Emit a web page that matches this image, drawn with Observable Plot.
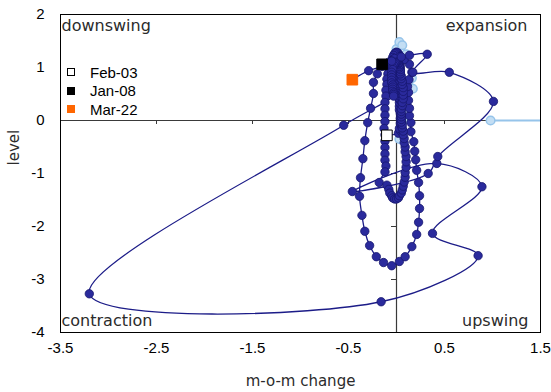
<!DOCTYPE html>
<html><head><meta charset="utf-8">
<script src="https://cdn.jsdelivr.net/npm/d3@7"></script>
<script src="https://cdn.jsdelivr.net/npm/@observablehq/plot@0.6"></script>
<style>
body{margin:0;background:#fff;}
#wrap{position:relative;width:551px;height:392px;}
#legend{position:absolute;left:67px;top:63px;font:15px "Liberation Sans",Arial,sans-serif;color:#000;}
.row{display:flex;align-items:center;height:18.5px;}
.sw{width:8px;height:8px;margin-right:15px;box-sizing:border-box;}
</style></head><body><div id="wrap"></div>
<script>
// ---- data ----
// dark series: m-o-m change (x) and level (y), Feb-03 .. Mar-22
const changeVals = [
 -0.10,0.02,0.04,0.03,0.05,0.04,0.05,0.04,0.05,0.04,0.04,0.03,0.04,0.03,0.04,0.03,0.04,0.03,0.02,0.03,
 0.02,0.03,0.02,0.03,0.02,0.03,0.02,0.03,0.03,0.04,0.03,0.04,0.03,0.04,0.03,0.04,0.03,0.04,0.03,0.04,
 0.03,0.03,0.03,0.02,0.03,0.02,0.02,0.01,0.01,0.00,-0.01,-0.02,-0.03,-0.04,-0.04,-0.05,-0.08,-0.15,
 -0.20,-0.24,-0.24,-0.27,-0.30,-0.33,-0.35,-0.375,-0.385,-0.36,-0.33,-0.28,-0.21,-0.135,-0.05,0.03,0.09,0.16,0.21,0.23,
 0.24,0.24,0.23,0.21,0.20,0.19,0.18,0.15,0.15,0.135,0.135,0.125,0.125,0.115,0.13,0.16,0.135,0.08,0.03,
 -0.02,-0.05,-0.07,-0.08,-0.09,-0.10,-0.10,-0.11,-0.11,-0.12,-0.12,-0.12,-0.12,-0.13,-0.12,-0.12,-0.12,-0.12,-0.12,-0.11,
 -0.12,-0.18,-0.10,-0.08,-0.07,-0.05,-0.04,-0.02,0.00,0.02,0.03,0.05,0.06,0.07,0.08,0.09,0.09,0.10,0.10,0.10,
 0.09,0.09,0.08,0.08,0.07,0.07,0.06,0.06,0.05,0.05,0.05,0.05,0.05,0.05,0.06,0.06,0.07,0.07,0.07,0.07,
 0.06,0.06,0.05,0.05,0.04,0.04,0.04,0.03,0.03,0.03,0.02,0.02,0.01,0.00,-0.01,-0.02,-0.03,-0.04,-0.04,-0.05,
 -0.05,-0.05,-0.05,-0.05,-0.04,-0.04,-0.04,-0.04,-0.03,-0.03,-0.03,
 -0.55,-3.20,-0.16,0.85,0.375,0.89,0.42,-0.46,0.33,0.43,1.01,0.55,0.17,0.32,0.135,0.05,-0.05,-0.15,-0.29,-0.46
];
const levelVals = [
 -0.28,-0.24,-0.19,-0.15,-0.10,-0.05,0.00,0.04,0.09,0.13,0.17,0.20,0.24,0.27,0.31,0.34,0.38,0.41,0.43,0.46,
 0.48,0.51,0.53,0.56,0.58,0.61,0.63,0.66,0.69,0.73,0.76,0.80,0.83,0.87,0.90,0.94,0.97,1.01,1.04,1.08,
 1.11,1.14,1.17,1.19,1.22,1.24,1.26,1.27,1.28,1.29,1.28,1.26,1.23,1.19,1.15,1.12,1.10,1.06,
 0.88,0.72,0.51,0.23,-0.04,-0.38,-0.72,-1.08,-1.43,-1.79,-2.09,-2.36,-2.57,-2.68,-2.74,-2.66,-2.57,-2.38,-2.15,-1.92,
 -1.66,-1.42,-1.17,-0.94,-0.74,-0.58,-0.40,-0.21,-0.04,0.09,0.23,0.38,0.53,0.64,0.77,0.91,1.06,1.15,1.20,
 1.17,1.12,1.05,0.97,0.88,0.78,0.68,0.57,0.46,0.34,0.22,0.10,-0.02,-0.15,-0.27,-0.39,-0.51,-0.63,-0.75,-0.86,
 -0.97,-1.17,-1.22,-1.30,-1.37,-1.42,-1.46,-1.48,-1.48,-1.46,-1.42,-1.37,-1.31,-1.24,-1.16,-1.07,-0.98,-0.88,-0.78,-0.68,
 -0.59,-0.50,-0.42,-0.34,-0.27,-0.20,-0.14,-0.08,-0.03,0.02,0.07,0.12,0.17,0.22,0.28,0.34,0.41,0.48,0.55,0.62,
 0.68,0.74,0.79,0.84,0.88,0.92,0.96,0.99,1.02,1.05,1.07,1.09,1.10,1.10,1.09,1.07,1.04,1.00,0.96,0.91,
 0.86,0.81,0.76,0.71,0.67,0.63,0.59,0.55,0.52,0.49,0.46,
 -0.09,-3.27,-3.42,-2.55,-2.13,-1.25,-0.81,-1.34,-1.00,-0.68,0.36,0.91,0.91,1.25,1.23,1.20,1.12,1.02,0.94,0.77
];
// light blue series
const lightChange = [0.03,0.05,0.07,0.08,0.06,0.02,-0.04,-0.07,-0.06,-0.03,-0.02,0.00,0.03,0.06,0.10,0.16,0.17];
const lightLevel  = [-0.35,-0.20,0.00,0.20,0.35,0.45,0.55,0.65,0.80,1.00,1.20,1.35,1.48,1.42,1.25,0.80,0.60];
const lightTailChange = [0.98, 2.5];
const lightTailLevel  = [0.0, 0.0];
// highlighted months
const markerLabels = ["Feb-03","Jan-08","Mar-22"];
const markerChange = [-0.10,-0.15,-0.46];
const markerLevel  = [-0.28,1.06,0.77];
// axes & labels
const xTickVals = [-3.5,-2.5,-1.5,-0.5,0.5,1.5];
const yTickVals = [-4,-3,-2,-1,0,1,2];
const quadrantLabels = ["downswing","expansion","contraction","upswing"];
const xLabel = "m-o-m change";
const yLabel = "level";

// ---- styles ----
const markerStyle = {
  "Feb-03": {fill:"#ffffff", stroke:"#000000"},
  "Jan-08": {fill:"#000000", stroke:"#000000"},
  "Mar-22": {fill:"#ff6600", stroke:"#ff6600"}
};
const DARK_LINE = "#1c1c88", DARK_FILL = "#2a2a9c", DARK_STROKE = "#17176e";
const LIGHT_FILL = "#c3def4", LIGHT_STROKE = "#96c4ea";
const GOTHIC = "'DejaVu Sans', Verdana, sans-serif";

const dark = changeVals.map((x,i)=>({x, y: levelVals[i]}));
const light = lightChange.map((x,i)=>({x, y: lightLevel[i]}));
const lightTail = lightTailChange.map((x,i)=>({x, y: lightTailLevel[i]}));

const quadPos = [
  {frameAnchor:"top-left", textAnchor:"start", dx:1, dy:11},
  {frameAnchor:"top-right", textAnchor:"end", dx:-13, dy:11},
  {frameAnchor:"bottom-left", textAnchor:"start", dx:1, dy:-12},
  {frameAnchor:"bottom-right", textAnchor:"end", dx:-12, dy:-12}
];

const chart = Plot.plot({
  width: 551, height: 392,
  marginLeft: 60, marginRight: 11, marginTop: 14, marginBottom: 60,
  x: {domain: [-3.5, 1.5]},
  y: {domain: [-4, 2]},
  style: {background: "white", color: "#000", fontFamily: "'Liberation Sans', Arial, sans-serif", fontSize: "15px"},
  marks: [
    Plot.axisX(xTickVals, {tickSize: 0, tickPadding: 10, label: null, tickFormat: d => d.toFixed(1), fontSize: 15}),
    Plot.axisY(yTickVals, {tickSize: 0, tickPadding: 16, label: null, tickFormat: d => String(d), fontSize: 15}),
    Plot.ruleY([0], {stroke: "#3a3a3a", strokeWidth: 1.2}),
    Plot.ruleX([0], {stroke: "#3a3a3a", strokeWidth: 1.2}),
    Plot.ruleX(xTickVals, {x: d => d, y1: 0, y2: 0, insetBottom: -4, stroke: "#3a3a3a"}),
    Plot.ruleY(yTickVals, {y: d => d, x1: 0, x2: 0, insetLeft: -5, stroke: "#3a3a3a"}),
    // light blue series
    Plot.line(lightTail, {x: "x", y: "y", stroke: LIGHT_STROKE, strokeWidth: 2, clip: true}),
    Plot.line(light, {x: "x", y: "y", stroke: LIGHT_STROKE, strokeWidth: 1.5, curve: "catmull-rom"}),
    Plot.dot(light, {x: "x", y: "y", r: 4.3, fill: LIGHT_FILL, stroke: LIGHT_STROKE}),
    Plot.dot(lightTail.slice(0,1), {x: "x", y: "y", r: 4.3, fill: LIGHT_FILL, stroke: LIGHT_STROKE}),
    // dark series
    Plot.line(dark, {x: "x", y: "y", stroke: DARK_LINE, strokeWidth: 1.3, curve: "catmull-rom"}),
    Plot.dot(dark, {x: "x", y: "y", r: 4.2, fill: DARK_FILL, stroke: DARK_STROKE, strokeWidth: 0.8}),
    // highlighted months
    ...markerLabels.map((lab, i) => Plot.dot([i], {
      x: j => markerChange[j], y: j => markerLevel[j], symbol: "square", r: 6,
      fill: markerStyle[lab].fill, stroke: markerStyle[lab].stroke, strokeWidth: 1
    })),
    Plot.frame({stroke: "#000", strokeWidth: 1}),
    // quadrant labels
    ...quadrantLabels.map((lab, i) => Plot.text([lab], {
      text: d => d, frameAnchor: quadPos[i].frameAnchor, textAnchor: quadPos[i].textAnchor,
      lineAnchor: "middle", dx: quadPos[i].dx, dy: quadPos[i].dy,
      fontFamily: GOTHIC, fontSize: 16, fill: "#2b2b2b"
    })),
    Plot.text([xLabel], {text: d => d, frameAnchor: "bottom", lineAnchor: "middle", dy: 49, fontFamily: GOTHIC, fontSize: 15, fill: "#2b2b2b"}),
    Plot.text([yLabel], {text: d => d, frameAnchor: "left", lineAnchor: "middle", rotate: -90, dx: -46, dy: -8, fontFamily: GOTHIC, fontSize: 15, fill: "#2b2b2b"})
  ]
});

const wrap = document.getElementById("wrap");
wrap.appendChild(chart);
// legend inside plot area
const legend = document.createElement("div");
legend.id = "legend";
markerLabels.forEach(lab => {
  const row = document.createElement("div");
  row.className = "row";
  const sw = document.createElement("span");
  sw.className = "sw";
  sw.style.background = markerStyle[lab].fill;
  sw.style.border = "1px solid " + markerStyle[lab].stroke;
  const t = document.createElement("span");
  t.textContent = lab;
  row.appendChild(sw); row.appendChild(t);
  legend.appendChild(row);
});
wrap.appendChild(legend);
</script></body></html>
